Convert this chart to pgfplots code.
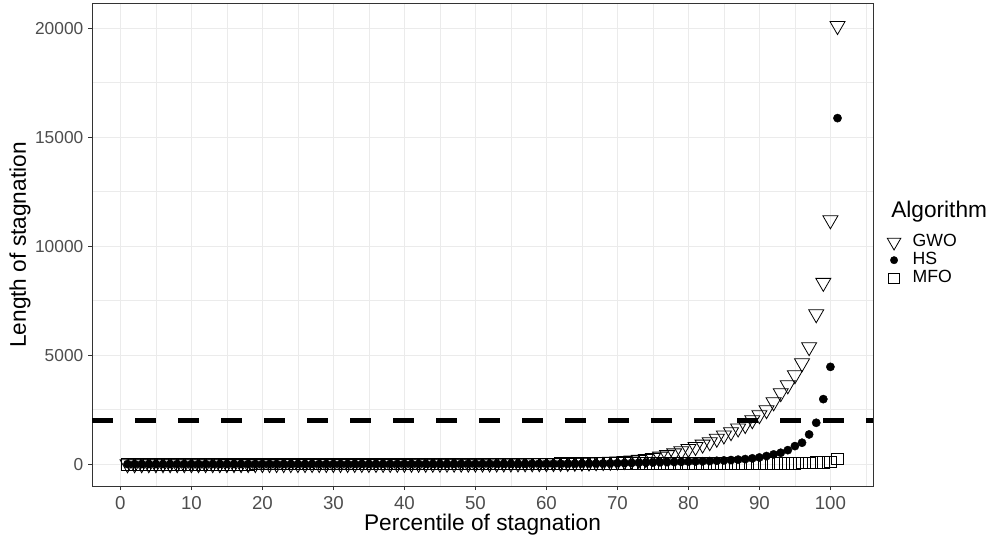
\documentclass[border=0pt]{standalone}
\usepackage{pgfplots}
\pgfplotsset{compat=1.18}
\usepackage{pgfplotstable}
\usepackage{fontspec}
\setmainfont{Liberation Sans}

\definecolor{gray20}{HTML}{333333}
\definecolor{gray30}{HTML}{4D4D4D}
\definecolor{gray92}{HTML}{EBEBEB}

% percentile, GWO, HS, MFO
\pgfplotstableread{
x gwo hs mfo
1 0 0 0
2 0 0 0
3 1 0 0
4 1 1 0
5 1 1 0
6 2 1 1
7 2 1 1
8 2 2 1
9 3 2 1
10 3 2 1
11 3 2 1
12 4 3 1
13 4 3 2
14 4 3 2
15 5 3 2
16 5 4 2
17 5 4 2
18 6 4 2
19 6 4 3
20 7 5 3
21 7 5 3
22 7 5 3
23 8 6 3
24 8 6 3
25 9 6 4
26 9 6 4
27 10 7 4
28 10 7 4
29 11 7 4
30 11 8 5
31 12 8 5
32 12 8 5
33 13 9 5
34 14 9 6
35 14 9 6
36 15 10 6
37 16 10 6
38 16 10 7
39 17 11 7
40 18 11 7
41 19 11 7
42 20 12 8
43 21 12 8
44 22 13 8
45 23 13 9
46 24 13 9
47 25 14 9
48 26 14 10
49 27 15 10
50 28 15 10
51 30 16 11
52 31 16 11
53 33 17 11
54 35 17 12
55 36 18 12
56 38 18 12
57 40 19 13
58 42 20 13
59 45 21 14
60 48 22 14
61 51 23 14
62 55 24 15
63 60 25 15
64 66 26 16
65 72 28 16
66 80 29 17
67 90 31 17
68 100 35 18
69 112 40 18
70 125 45 19
71 145 50 19
72 170 55 20
73 200 62 20
74 240 70 21
75 290 78 22
76 350 85 22
77 420 90 23
78 500 97 24
79 600 104 24
80 700 112 25
81 790 120 26
82 900 130 27
83 1010 140 28
84 1170 152 29
85 1320 168 30
86 1470 185 31
87 1640 205 32
88 1800 230 33
89 2020 265 34
90 2250 305 36
91 2480 370 38
92 2840 445 40
93 3260 520 42
94 3620 640 45
95 4080 825 48
96 4630 980 52
97 5370 1360 56
98 6880 1895 62
99 8320 2980 70
100 11190 4460 95
101 20100 15870 240
}\stagdata

\pgfplotsset{
  ptlegend/.style={legend image code/.code={%
    \path[draw=none, fill=none] (-7pt,-3pt) rectangle (7pt,3pt);
    \draw[##1, every mark/.append style={scale=0.9}] plot coordinates {(0pt,0pt)};}},
}

\begin{document}
\begin{tikzpicture}
\path[use as bounding box] (0,0) rectangle (746.25pt,404.25pt);
\begin{axis}[
  at={(69pt,39.75pt)}, anchor=south west,
  scale only axis, width=585.75pt, height=361.5pt,
  xmin=-4, xmax=106, ymin=-1005, ymax=21105,
  xtick={0,10,...,100}, minor xtick={5,15,...,105},
  ytick={0,5000,10000,15000,20000}, minor ytick={2500,7500,12500,17500},
  scaled y ticks=false,
  grid=both,
  major grid style={gray92, line width=0.8pt},
  minor grid style={gray92, line width=0.4pt},
  axis line style={gray20, line width=0.75pt},
  tick style={gray20, line width=0.75pt},
  major tick length=3pt, minor tick length=0pt,
  tick align=outside, xtick pos=bottom, ytick pos=left,
  /pgf/number format/assume math mode=true,
  /pgf/number format/1000 sep={},
  yticklabel style={font=\fontsize{13}{15}\selectfont, text=gray30},
  xticklabel style={font=\fontsize{14}{16}\selectfont, text=gray30, yshift=-1.5pt},
  every axis x label/.style={at={(axis description cs:0.5,-0.0768)}, anchor=center, yshift=-1.5pt},
  every axis y label/.style={at={(axis description cs:-0.0922,0.5)}, rotate=90, anchor=center},
  label style={font=\fontsize{17}{20}\selectfont},
  xlabel={Percentile of stagnation},
  ylabel={Length of stagnation},
  legend style={draw=none, fill=none, inner sep=0pt, outer sep=0pt,
    at={(axis description cs:1.015,0.5245)}, anchor=north west,
    nodes={inner sep=0pt, text height=10pt, text depth=3.5pt,
      font=\fontsize{13.25}{15}\selectfont},
    /tikz/every odd column/.append style={column sep=7pt}},
  legend cell align=left,
]
\addplot[only marks, mark=triangle, mark size=6.5pt,
  mark options={rotate=180, black, line width=0.6pt}, ptlegend]
  table[x=x, y=gwo] {\stagdata};
\addlegendentry{GWO}
\addplot[only marks, mark=*, mark size=3.1pt,
  mark options={black, line width=0.3pt}, ptlegend]
  table[x=x, y=hs] {\stagdata};
\addlegendentry{HS}
\addplot[only marks, mark=square, mark size=4.4pt,
  mark options={black, line width=0.6pt}, ptlegend]
  table[x=x, y=mfo] {\stagdata};
\addlegendentry{MFO}
\addplot[black, line width=3.75pt, dash pattern=on 15.75pt off 16.5pt, forget plot]
  coordinates {(-4,2000) (106,2000)};
\end{axis}
\node[anchor=base west, inner sep=0pt, font=\fontsize{17}{20}\selectfont]
  at (668.25pt,241pt) {Algorithm};
\end{tikzpicture}
\end{document}
